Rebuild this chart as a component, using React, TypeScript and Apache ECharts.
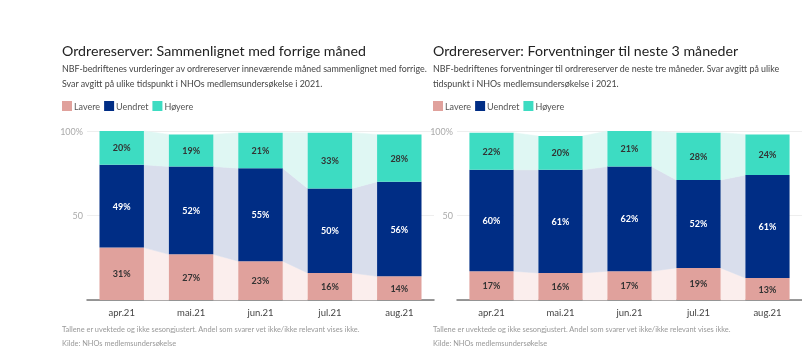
import React, { useEffect, useRef } from "react";
import * as echarts from "echarts";

const categories = ["apr.21", "mai.21", "jun.21", "jul.21", "aug.21"];
const seriesNames = ["Lavere", "Uendret", "Høyere"];

// Left: Sammenlignet med forrige måned
const leftLavere = [31, 27, 23, 16, 14];
const leftUendret = [49, 52, 55, 50, 56];
const leftHoyere = [20, 19, 21, 33, 28];

// Right: Forventninger til neste 3 måneder
const rightLavere = [17, 16, 17, 19, 13];
const rightUendret = [60, 61, 62, 52, 61];
const rightHoyere = [22, 20, 21, 28, 24];

const titles = [
  "Ordrereserver: Sammenlignet med forrige måned",
  "Ordrereserver: Forventninger til neste 3 måneder",
];
const subtitles = [
  [
    "NBF-bedriftenes vurderinger av ordrereserver inneværende måned sammenlignet med forrige.",
    "Svar avgitt på ulike tidspunkt i NHOs medlemsundersøkelse i 2021.",
  ],
  [
    "NBF-bedriftenes forventninger til ordrereserver de neste tre måneder. Svar avgitt på ulike",
    "tidspunkt i NHOs medlemsundersøkelse i 2021.",
  ],
];
const footnote = "Tallene er uvektede og ikke sesongjustert. Andel som svarer vet ikke/ikke relevant vises ikke.";
const source = "Kilde: NHOs medlemsundersøkelse";

const barColors = ["#e0a19c", "#002d85", "#3ddcc2"];
const bandColors = ["#fbeeed", "#d9deec", "#dff7f3"];
const labelColors = ["#333333", "#ffffff", "#333333"];
const FONT = "Lato, 'Open Sans', sans-serif";
const BAR_RATIO = 0.64;

function makeBands(idx: number, sets: number[][]) {
  const cum = categories.map((_, i) => {
    const c = [0];
    sets.forEach((s) => c.push(c[c.length - 1] + s[i]));
    return c;
  });
  return {
    type: "custom",
    xAxisIndex: idx,
    yAxisIndex: idx,
    silent: true,
    z: 1,
    data: categories.slice(0, -1).map((_, i) => [i]),
    renderItem: (params: any, api: any) => {
      const i = api.value(0);
      const w = api.size([1, 0])[0] * BAR_RATIO;
      const children: any[] = [];
      for (let k = 0; k < 3; k++) {
        const a0 = api.coord([i, cum[i][k]]);
        const a1 = api.coord([i, cum[i][k + 1]]);
        const b0 = api.coord([i + 1, cum[i + 1][k]]);
        const b1 = api.coord([i + 1, cum[i + 1][k + 1]]);
        children.push({
          type: "polygon",
          shape: {
            points: [
              [a0[0] + w / 2, a0[1]],
              [a1[0] + w / 2, a1[1]],
              [b1[0] - w / 2, b1[1]],
              [b0[0] - w / 2, b0[1]],
            ],
          },
          style: { fill: bandColors[k], stroke: bandColors[k], lineWidth: 0.5 },
        });
      }
      return { type: "group", children };
    },
  };
}

function makeBars(idx: number, sets: number[][]) {
  return sets.map((vals, k) => ({
    name: seriesNames[k],
    type: "bar",
    stack: "s" + idx,
    xAxisIndex: idx,
    yAxisIndex: idx,
    barWidth: BAR_RATIO * 100 + "%",
    z: 2,
    itemStyle: { color: barColors[k] },
    label: {
      show: true,
      position: "inside",
      formatter: "{c}%",
      color: labelColors[k],
      fontSize: 9,
      fontWeight: "bold",
      fontFamily: FONT,
    },
    data: vals,
  }));
}

export default function App() {
  const ref = useRef<HTMLDivElement>(null);
  useEffect(() => {
    const chart = echarts.init(ref.current!, null, { renderer: "svg" });
    const grids = [
      { left: 87, top: 131, width: 347, height: 169 },
      { left: 457, top: 131, width: 348, height: 169 },
    ];
    const xs = [62, 433];
    const graphic: any[] = [];
    xs.forEach((x, p) => {
      graphic.push({
        type: "text",
        left: x,
        top: 43,
        style: { text: titles[p], fontSize: 14.2, fontFamily: FONT, fill: "#222" },
      });
      subtitles[p].forEach((line, j) => {
        graphic.push({
          type: "text",
          left: x,
          top: 64 + j * 15,
          style: { text: line, fontSize: 8.9, fontFamily: FONT, fill: "#444" },
        });
      });
      graphic.push({
        type: "text",
        left: x,
        top: 326,
        style: { text: footnote, fontSize: 7.4, fontFamily: FONT, fill: "#999" },
      });
      graphic.push({
        type: "text",
        left: x,
        top: 340,
        style: { text: source, fontSize: 7.4, fontFamily: FONT, fill: "#999" },
      });
    });
    const axisX = (i: number) => ({
      type: "category",
      gridIndex: i,
      data: categories,
      axisTick: { show: false },
      axisLine: { lineStyle: { color: "#777", width: 1.5 } },
      axisLabel: { color: "#444", fontSize: 9.5, fontFamily: FONT, margin: 7 },
    });
    const axisY = (i: number) => ({
      type: "value",
      gridIndex: i,
      min: 0,
      max: 100,
      interval: 50,
      axisLine: { show: false },
      axisTick: { show: false },
      splitLine: { lineStyle: { color: "#eeeeee" } },
      axisLabel: {
        color: "#aaa",
        fontSize: 9,
        fontFamily: FONT,
        margin: 4,
        formatter: (v: number) => (v === 100 ? "100%" : v === 50 ? "50" : ""),
      },
    });
    const legend = (x: number) => ({
      left: x,
      top: 101,
      icon: "rect",
      itemWidth: 10,
      itemHeight: 10,
      itemGap: 4,
      padding: 0,
      selectedMode: false,
      data: seriesNames,
      textStyle: { color: "#555", fontSize: 9, fontFamily: FONT, padding: [0, 0, 0, -3] },
    });
    const leftSets = [leftLavere, leftUendret, leftHoyere];
    const rightSets = [rightLavere, rightUendret, rightHoyere];
    chart.setOption({
      animation: false,
      grid: grids,
      xAxis: [axisX(0), axisX(1)],
      yAxis: [axisY(0), axisY(1)],
      legend: [legend(62), legend(433)],
      graphic,
      series: [
        makeBands(0, leftSets),
        makeBands(1, rightSets),
        ...makeBars(0, leftSets),
        ...makeBars(1, rightSets),
      ],
    });
    return () => chart.dispose();
  }, []);
  return (
    <div
      ref={ref}
      style={{ position: "fixed", left: 0, top: 0, width: 802, height: 360 }}
    />
  );
}
